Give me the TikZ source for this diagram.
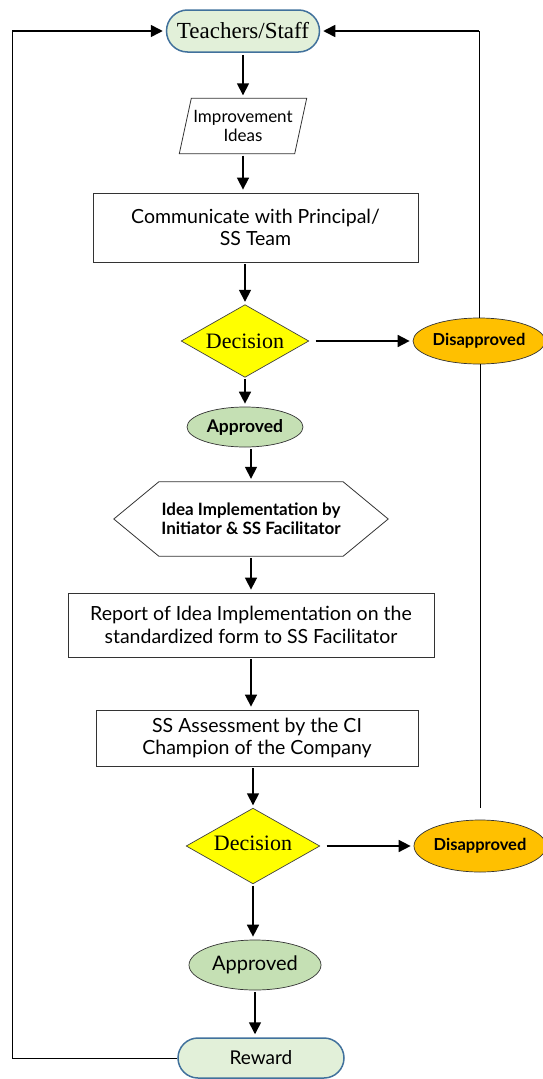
\documentclass[tikz,border=0pt]{standalone}
\usepackage{fontspec}
\setmainfont{Liberation Serif}
\newfontfamily\gs{Lato}
\usetikzlibrary{shapes.geometric,shapes.misc,arrows.meta,calc}
\pgfdeclarelayer{background}
\pgfsetlayers{background,main}
\definecolor{termfill}{HTML}{E2F0D9}
\definecolor{termdraw}{HTML}{41719C}
\definecolor{appfill}{HTML}{C5E0B4}
\definecolor{disfill}{HTML}{FFC000}
\definecolor{decfill}{HTML}{FFFF00}
\tikzset{
  term/.style={rounded rectangle, draw=termdraw, line width=1.5pt, fill=termfill, inner sep=0pt},
  procbox/.style={rectangle, draw=black!80, line width=0.8pt, inner sep=0pt, align=center, font=\gs\fontsize{19.5}{22.5}\selectfont},
  decnode/.style={inner sep=0pt, font=\fontsize{22}{24}\selectfont},
  decshape/.style={draw=black!75, line width=0.7pt, fill=decfill},
  disbox/.style={ellipse, draw=black!80, line width=0.7pt, fill=disfill, inner sep=0pt, font=\gs\bfseries\fontsize{16.5}{18}\selectfont},
  appbox/.style={ellipse, draw=black!80, line width=0.7pt, fill=appfill, inner sep=0pt},
  plain/.style={inner sep=0pt, align=center},
  arr/.style={line width=1.6pt, -{Triangle[length=12pt,width=12pt]}, shorten <=2pt, shorten >=3pt},
  loopline/.style={line width=0.7pt},
  outline/.style={draw=black!80, line width=0.8pt}
}
\begin{document}
\begin{tikzpicture}[x=1pt,y=-1pt]
\useasboundingbox (0,0) rectangle (543,1079);

\node[term, minimum width=153pt, minimum height=42pt, font=\fontsize{23}{25}\selectfont] (tea) at (243,31) {Teachers/Staff};

\node[plain, minimum width=127pt, minimum height=55pt, font=\gs\fontsize{17}{19}\selectfont] (par) at (243,126) {Improvement\\Ideas};
\draw[outline] ($(par.north west)+(12,0)$) -- (par.north east) -- ($(par.south east)+(-12,0)$) -- (par.south west) -- cycle;

\node[procbox, minimum width=325pt, minimum height=69pt] (com) at (255.5,227.5) {Communicate with Principal/\\SS Team};

\node[decnode, minimum width=127pt, minimum height=72pt] (dec) at (245,341) {Decision};
\begin{pgfonlayer}{background}
\draw[decshape] (dec.north) -- (dec.east) -- (dec.south) -- (dec.west) -- cycle;
\end{pgfonlayer}
\node[disbox, minimum width=132pt, minimum height=46pt] (dis) at (479,341) {Disapproved};
\node[appbox, minimum width=116pt, minimum height=40pt, font=\gs\bfseries\fontsize{17.5}{19}\selectfont] (app) at (245,427) {Approved};

\node[plain, minimum width=274pt, minimum height=74pt, font=\gs\bfseries\fontsize{17}{19}\selectfont] (hex) at (251,519) {Idea Implementation by\\Initiator \& SS Facilitator};
\draw[outline] (hex.west) -- ($(hex.north west)+(45,0)$) -- ($(hex.north east)+(-45,0)$) -- (hex.east) -- ($(hex.south east)+(-45,0)$) -- ($(hex.south west)+(45,0)$) -- cycle;

\node[procbox, minimum width=366pt, minimum height=64pt] (rep) at (251,625) {Report of Idea Implementation on the\\standardized form to SS Facilitator};
\node[procbox, minimum width=322pt, minimum height=56pt] (ssa) at (257,738) {SS Assessment by the CI\\Champion of the Company};

\node[decnode, minimum width=133pt, minimum height=75pt] (dec2) at (253,846) {\raisebox{5pt}{Decision}};
\begin{pgfonlayer}{background}
\draw[decshape] (dec2.north) -- (dec2.east) -- (dec2.south) -- (dec2.west) -- cycle;
\end{pgfonlayer}
\node[disbox, minimum width=132pt, minimum height=52pt] (dis2) at (480,846) {Disapproved};
\node[appbox, minimum width=132pt, minimum height=50pt, font=\gs\fontsize{20}{22}\selectfont] (app2) at (255,965) {Approved};

\node[term, minimum width=166pt, minimum height=40pt, font=\gs\fontsize{19}{21}\selectfont] (rew) at (261,1058) {Reward};

% main flow
\draw[arr] (tea.south -| par.north) -- (par.north);
\draw[arr] (par.south) -- (par.south |- com.north);
\draw[arr] (com.south -| dec.north) -- (dec.north);
\draw[arr] (dec.south) -- (app.north);
\draw[arr] (app.south -| hex.north) -- (hex.north);
\draw[arr] (hex.south) -- (hex.south |- rep.north);
\draw[arr] (rep.south) -- (rep.south |- ssa.north);
\draw[arr] (ssa.south -| dec2.north) -- (dec2.north);
\draw[arr] (dec2.south) -- (dec2.south |- app2.north);
\draw[arr] (app2.south) -- (app2.south |- rew.north);

% disapproved branches
\draw[arr] ($(dec.east)+(5,0)$) -- (dis.west);
\draw[arr] ($(dec2.east)+(5,0)$) -- (dis2.west);

% loops
\coordinate (tl) at (12,31);
\coordinate (bl) at (12,1058);
\coordinate (tr) at (479,31);
\draw[loopline] (rew.west) -- (bl) -- (tl);
\draw[arr, shorten <=0pt] (tl) -- (tea.west);
\draw[loopline] (dis.north) -- (tr);
\draw[arr, shorten <=0pt] (tr) -- (tea.east);
\draw[loopline] ($(dis2.north)+(0,-12)$) -- (dis2.north |- dis.south);
\end{tikzpicture}
\end{document}
